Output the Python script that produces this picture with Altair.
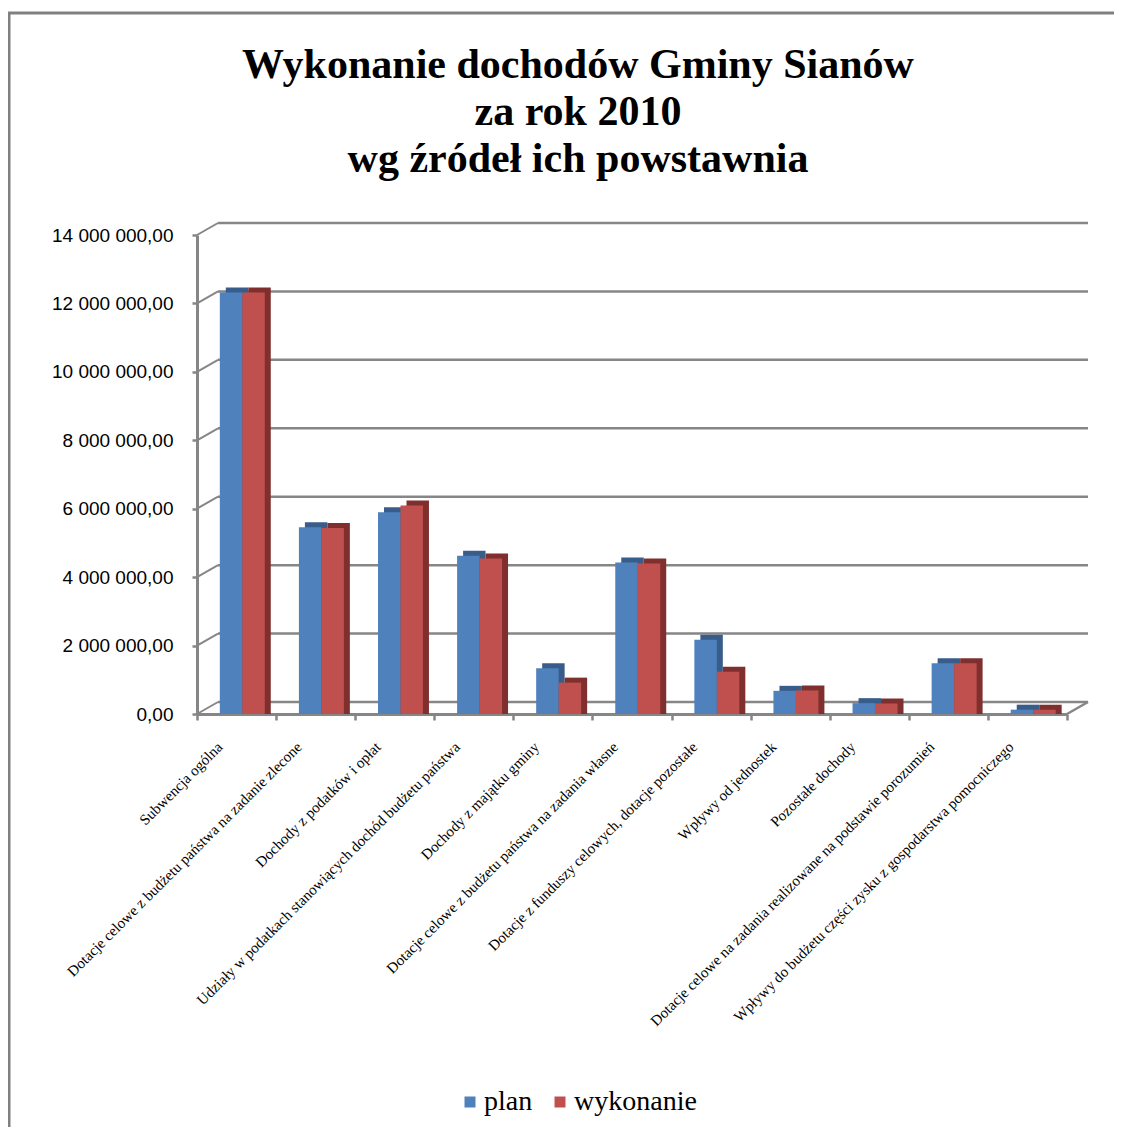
import altair as alt
import pandas as pd

categories = [
    "Subwencja ogólna",
    "Dotacje celowe z budżetu państwa na zadanie zlecone",
    "Dochody z podatków i opłat",
    "Udziały w podatkach stanowiących dochód budżetu państwa",
    "Dochody z majątku gminy",
    "Dotacje celowe z budżetu państwa na zadania własne",
    "Dotacje z funduszy celowych, dotacje pozostałe",
    "Wpływy od jednostek",
    "Pozostałe dochody",
    "Dotacje celowe na zadania realizowane na podstawie porozumień",
    "Wpływy do budżetu części zysku z gospodarstwa pomocniczego",
]
plan = [12200000, 5340000, 5780000, 4510000, 1220000, 4310000, 2050000, 560000, 200000, 1370000, 10000]
wykonanie = [12200000, 5320000, 5980000, 4430000, 800000, 4280000, 1120000, 570000, 190000, 1370000, 8000]
series_names = ["plan", "wykonanie"]
series_colors = ["#4F81BD", "#C0504D"]
shade_colors = ["#385D8A", "#7F302E"]
y_ticks = [0, 2000000, 4000000, 6000000, 8000000, 10000000, 12000000, 14000000]
title_lines = ["Wykonanie  dochodów Gminy Sianów", "za rok 2010", "wg źródeł ich powstawnia"]

rows = []
for c, p, w in zip(categories, plan, wykonanie):
    rows.append({"cat": c, "series": "plan", "value": p})
    rows.append({"cat": c, "series": "wykonanie", "value": w})
df = pd.DataFrame(rows)
grid = pd.DataFrame({"v": y_ticks})
one = pd.DataFrame({"v": [0]})

W, H = 870, 479
DX, DY = 21, -12
GRAY = "#868686"
BANDW = 0.284

yscale = alt.Scale(domain=[0, 14000000], nice=False, zero=True)
yaxis = alt.Axis(
    values=y_ticks, format=",.2f", title=None, grid=False,
    labelFont="Liberation Sans", labelFontSize=19, labelColor="black",
    labelPadding=19, domainColor=GRAY, domainWidth=3,
    tickColor=GRAY, tickWidth=2.5, tickSize=5,
)
xenc = alt.X(
    "cat:N", sort=categories,
    scale=alt.Scale(paddingInner=0, paddingOuter=0),
    axis=alt.Axis(
        title=None, labelAngle=-45, labelAlign="right", labelBaseline="middle",
        labelFont="Liberation Serif", labelFontSize=15, labelColor="black",
        labelOffset=-17, labelPadding=24, labelLimit=1000, labelOverlap=False,
        tickBand="extent", tickSize=6, tickColor=GRAY, tickWidth=2.5,
        domainColor=GRAY, domainWidth=3,
    ),
)
yenc = alt.Y("value:Q", scale=yscale, axis=yaxis, stack=None)
color_enc = alt.Color(
    "series:N",
    scale=alt.Scale(domain=series_names, range=series_colors),
    legend=alt.Legend(
        title=None, orient="none", legendX=259, legendY=853, direction="horizontal",
        symbolType="square", symbolSize=121, symbolStrokeWidth=0,
        labelFont="Liberation Serif", labelFontSize=28, labelColor="black",
        labelOffset=0, columnPadding=13, padding=0,
    ),
)

# back wall gridlines
grid_lines = alt.Chart(grid).mark_rule(color=GRAY, strokeWidth=2.5, yOffset=DY).encode(
    x=alt.value(DX), x2=alt.value(W + DX),
    y=alt.Y("v:Q", scale=yscale, axis=yaxis),
)
connectors = alt.Chart(grid).mark_rule(color=GRAY, strokeWidth=2, y2Offset=DY).encode(
    x=alt.value(0), x2=alt.value(DX),
    y=alt.Y("v:Q", scale=yscale, axis=yaxis), y2="v:Q",
)
floor_edge = alt.Chart(one).mark_rule(color=GRAY, strokeWidth=2.5, y2Offset=DY).encode(
    x=alt.value(W), x2=alt.value(W + DX),
    y=alt.Y("v:Q", scale=yscale, axis=yaxis), y2="v:Q",
)

offsets = {"plan": -5.5, "wykonanie": 17}
layers = [grid_lines, connectors, floor_edge]
for i, s in enumerate(series_names):
    base = alt.Chart(df).transform_filter(alt.datum.series == s)
    shade = base.mark_bar(
        width={"band": BANDW}, color=shade_colors[i],
        xOffset=offsets[s] + 6, yOffset=-9, y2Offset=-9,
    ).encode(x=xenc, y=yenc)
    front = base.mark_bar(
        width={"band": BANDW},
        xOffset=offsets[s], yOffset=-4, y2Offset=-4,
    ).encode(x=xenc, y=yenc, color=color_enc)
    layers += [shade, front]

# chart frame
frame_left = alt.Chart(one).mark_rule(color="#808080", strokeWidth=3).encode(
    x=alt.value(-188), y=alt.value(-222), y2=alt.value(H + 420),
)
frame_top = alt.Chart(one).mark_rule(color="#808080", strokeWidth=3).encode(
    x=alt.value(-189.5), x2=alt.value(W + 60), y=alt.value(-222),
)
layers += [frame_left, frame_top]

chart = alt.layer(*layers).properties(
    width=W, height=H,
    autosize=alt.AutoSizeParams(type="none"),
    padding={"left": 189, "top": 227, "right": 47, "bottom": 413},
    title=alt.TitleParams(
        text=title_lines, font="Liberation Serif", fontSize=42, fontWeight="bold",
        color="black", lineHeight=47, anchor="middle", dx=-54, offset=-211,
        baseline="bottom",
    ),
).configure(
    locale={"number": {"decimal": ",", "thousands": "\u00a0", "grouping": [3], "currency": ["", ""]}},
).configure_view(stroke=None)

chart.save("out.html", embed_options={"renderer": "svg", "actions": False})
